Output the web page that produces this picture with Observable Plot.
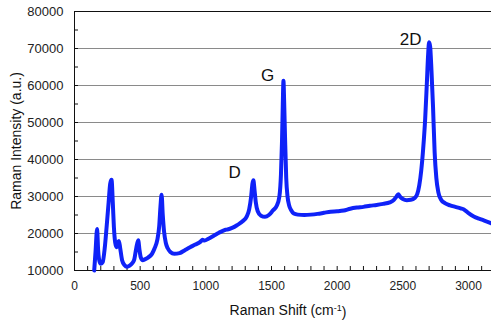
<!DOCTYPE html>
<html><head><meta charset="utf-8">
<script src="https://cdn.jsdelivr.net/npm/d3@7"></script>
<script src="https://cdn.jsdelivr.net/npm/@observablehq/plot@0.6"></script>
<style>body{margin:0;background:#fff}</style>
</head><body><div id="chart"></div>
<script>
const shift = [150,160,172,180,190,200,215,230,245,260,272,282,292,300,310,320,330,338,348,363,380,401,420,440,455,470,485,495,505,520,535,560,590,610,630,645,655,663,672,682,695,710,730,760,800,840,880,920,960,975,990,1020,1060,1100,1150,1165,1200,1240,1280,1310,1330,1345,1355,1362,1370,1380,1395,1420,1450,1480,1510,1540,1560,1572,1580,1586,1591,1596,1603,1612,1622,1635,1650,1670,1700,1750,1800,1850,1900,1950,2000,2050,2100,2150,2200,2250,2300,2350,2400,2430,2450,2465,2480,2500,2530,2560,2590,2610,2625,2640,2655,2670,2682,2692,2700,2708,2718,2730,2742,2755,2770,2790,2820,2860,2900,2940,2965,3000,3040,3080,3120,3170];
const intensity = [10000,15000,21200,15500,12500,11800,12300,16000,22000,28500,33500,34500,28000,21700,17500,16300,17500,18000,16000,12700,11500,11000,11300,12000,13000,16000,18200,15500,13500,12800,13000,13500,14500,16000,18200,22000,27500,30500,25000,20500,17500,16000,15000,14500,14700,15500,16300,17000,17800,18300,18100,18600,19400,20200,21000,21100,21500,22300,23300,24500,26500,30000,33500,34400,32000,28500,26000,24800,24500,25000,26200,27500,30000,36000,45000,55000,61300,56000,46000,35000,30000,27500,26300,25400,25100,25000,25100,25300,25600,25900,26000,26200,26700,27000,27200,27500,27700,28000,28400,29000,29900,30600,29900,29300,29000,29100,29600,30700,33000,37000,43000,51000,60000,68000,71700,70500,64000,54000,42000,35000,31200,29200,28200,27600,27200,26800,26500,25500,24600,24000,23500,22800];

const yTicks = [10000,20000,30000,40000,50000,60000,70000,80000];
const yGrid = [20000,30000,40000,50000,60000,70000];
const yMinor = [15000,20000,25000,30000,35000,40000,45000,50000,55000,60000,65000,70000,75000];
const xTicks = [0,500,1000,1500,2000,2500,3000];
const xMinor = [100,200,300,400,500,600,700,800,900,1000,1100,1200,1300,1400,1500,1600,1700,1800,1900,2000,2100,2200,2300,2400,2500,2600,2700,2800,2900,3000,3100];

const peakNames = ["D","G","2D"];
const peakShift = [1219,1470,2559];
const peakIntensity = [36500,62800,72400];

const xTitle = "Raman Shift (cm-1)";
const yTitle = "Raman Intensity (a.u.)";

const data = shift.map((s,i)=>({s, v:intensity[i]}));
const peaks = peakNames.map((n,i)=>({n, s:peakShift[i], v:peakIntensity[i]}));

const chart = Plot.plot({
  width: 491, height: 322,
  marginLeft: 74, marginRight: 0, marginTop: 11, marginBottom: 52,
  style: {fontFamily: "'Liberation Sans', Arial, sans-serif", background: "#fff", color: "#222"},
  x: {domain: [0, 3175]},
  y: {domain: [10000, 80000]},
  marks: [
    Plot.gridY(yGrid, {stroke: "#8a8a8a", strokeOpacity: 1, strokeWidth: 1}),
    Plot.ruleY([80000], {stroke: "#111"}),
    Plot.ruleY([10000], {stroke: "#111"}),
    Plot.ruleX([0], {stroke: "#111"}),
    Plot.tickY(yMinor, {insetRight: 413, stroke: "#111"}),
    Plot.tickX(xMinor, {insetTop: 255, stroke: "#111"}),
    Plot.axisY({ticks: yTicks, tickSize: 0, tickPadding: 11, label: null, fontSize: 13, tickFormat: d => String(d)}),
    Plot.axisX({ticks: xTicks, tickSize: 0, tickPadding: 11, label: null, fontSize: 12, tickFormat: d => String(d)}),
    Plot.line(data, {x: "s", y: "v", stroke: "#0f22f8", strokeWidth: 4, curve: "monotone-x", strokeLinejoin: "round"}),
    Plot.text(peaks, {x: "s", y: "v", text: "n", fontSize: 17, fill: "#111", lineAnchor: "middle"}),
    Plot.text([xTitle], {frameAnchor: "bottom", textAnchor: "middle", dy: 40, dx: 5, lineAnchor: "middle", fontSize: 14, fill: "#111"}),
    Plot.text([yTitle], {frameAnchor: "left", textAnchor: "middle", dx: -58, rotate: -90, lineAnchor: "middle", fontSize: 14, fill: "#111"})
  ]
});
document.getElementById("chart").appendChild(chart);

// superscript in the x title
d3.select(chart).selectAll("text").each(function() {
  const t = d3.select(this);
  if (t.text() === xTitle) {
    t.text(null);
    t.append("tspan").text("Raman Shift (cm");
    t.append("tspan").attr("dy", "-0.45em").attr("font-size", "9").text("-1");
    t.append("tspan").attr("dy", "0.45em").text(")");
  }
});
</script>
</body></html>
